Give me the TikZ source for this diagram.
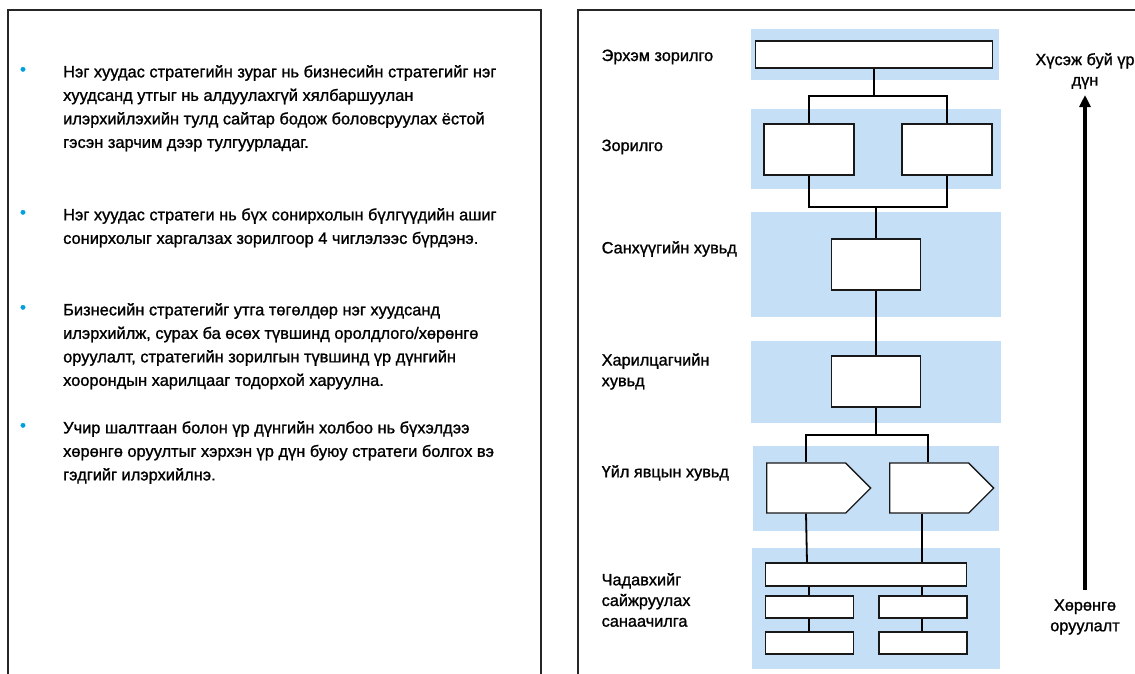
\documentclass[tikz,border=0pt]{standalone}
\usepackage{fontspec}
\setmainfont{Liberation Sans}[FakeBold=1.2]
\usetikzlibrary{shapes.symbols,arrows.meta}
\definecolor{band}{RGB}{197,223,246}
\definecolor{bul}{RGB}{0,160,222}
\begin{document}
\begin{tikzpicture}[x=1pt,y=-1pt,
  panel/.style={draw=black!85,line width=1.5pt},
  bandbox/.style={fill=band,draw=none,inner sep=0pt},
  wbox/.style={draw=black!90,fill=white,line width=1.3pt,inner sep=0pt},
  pent/.style={signal,signal to=east,signal pointer angle=90,draw=black!90,fill=white,line width=1.3pt,inner sep=0pt,minimum width=104pt,minimum height=50pt,anchor=west},
  conn/.style={draw=black,line width=1.8pt},
  thinconn/.style={draw=black,line width=1.3pt},
  para/.style={anchor=north west,inner sep=0pt,align=left,font=\fontsize{16.4}{23.5}\selectfont},
  bullet/.style={text=bul,inner sep=0pt,font=\fontsize{17}{18}\selectfont},
  rlab/.style={anchor=west,inner sep=0pt,align=left,font=\fontsize{16.3}{20.7}\selectfont},
  clab/.style={inner sep=0pt,align=center,font=\fontsize{16.3}{20.5}\selectfont}]
\useasboundingbox (0,0) rectangle (1135,673);
\clip (0,0) rectangle (1135,673);
% panels
\draw[panel] (8,690) -- (8,10) -- (541,10) -- (541,690);
\draw[panel] (578,690) -- (578,10) -- (1145,10);
% left text
\node[bullet] (b1) at (23,71) {•};
\node[para] (p1) at (63,65) {Нэг хуудас стратегийн зураг нь бизнесийн стратегийг нэг\\хуудсанд утгыг нь алдуулахгүй хялбаршуулан\\илэрхийлэхийн тулд сайтар бодож боловсруулах ёстой\\гэсэн зарчим дээр тулгуурладаг.};
\node[bullet] (b2) at (23,214) {•};
\node[para] (p2) at (63,208) {Нэг хуудас стратеги нь бүх сонирхолын бүлгүүдийн ашиг\\сонирхолыг харгалзах зорилгоор 4 чиглэлээс бүрдэнэ.};
\node[bullet] (b3) at (23,309) {•};
\node[para] (p3) at (63,303) {Бизнесийн стратегийг утга төгөлдөр нэг хуудсанд\\илэрхийлж, сурах ба өсөх түвшинд оролдлого/хөрөнгө\\оруулалт, стратегийн зорилгын түвшинд үр дүнгийн\\хоорондын харилцааг тодорхой харуулна.};
\node[bullet] (b4) at (23,427) {•};
\node[para] (p4) at (63,421) {Учир шалтгаан болон үр дүнгийн холбоо нь бүхэлдээ\\хөрөнгө оруултыг хэрхэн үр дүн буюу стратеги болгох вэ\\гэдгийг илэрхийлнэ.};
% bands
\node[bandbox,minimum width=248pt,minimum height=51pt] (band1) at (875,54.5) {};
\node[bandbox,minimum width=250pt,minimum height=80pt] (band2) at (875.5,149) {};
\node[bandbox,minimum width=250pt,minimum height=105pt] (band3) at (875.5,264.5) {};
\node[bandbox,minimum width=250pt,minimum height=82pt] (band4) at (875.5,382) {};
\node[bandbox,minimum width=246pt,minimum height=85pt] (band5) at (876,488.5) {};
\node[bandbox,minimum width=248pt,minimum height=121pt] (band6) at (876,608.5) {};
% row labels
\node[rlab] (l1) at (601.5,57) {Эрхэм зорилго};
\node[rlab] (l2) at (601.5,147) {Зорилго};
\node[rlab] (l3) at (601.5,249) {Санхүүгийн хувьд};
\node[rlab] (l4) at (601.5,371.5) {Харилцагчийн\\хувьд};
\node[rlab] (l5) at (601.5,473) {Үйл явцын хувьд};
\node[rlab] (l6) at (601.5,600) {Чадавхийг\\сайжруулах\\санаачилга};
% junctions
\coordinate (j1) at (874,96);
\coordinate (j2) at (876,207);
\coordinate (j3) at (876,435);
% boxes
\node[wbox,minimum width=237pt,minimum height=27pt] (m1) at (874,54.5) {};
\node[wbox,minimum width=90pt,minimum height=51pt] (g1) at (809,149.5) {};
\node[wbox,minimum width=90pt,minimum height=51pt] (g2) at (947,149.5) {};
\node[wbox,minimum width=89pt,minimum height=51pt] (f1) at (876,264.5) {};
\node[wbox,minimum width=89pt,minimum height=51pt] (c1) at (876,381.5) {};
\node[pent] (pr1) at (766,488) {};
\node[pent] (pr2) at (889,488) {};
\node[wbox,minimum width=201pt,minimum height=23pt] (bar) at (866.3,574.5) {};
\node[wbox,minimum width=88pt,minimum height=22pt] (s1) at (809.5,607) {};
\node[wbox,minimum width=88pt,minimum height=22pt] (s2) at (923,607) {};
\node[wbox,minimum width=88pt,minimum height=22pt] (s3) at (809.5,643) {};
\node[wbox,minimum width=88pt,minimum height=22pt] (s4) at (923,643) {};
% connector lines
\draw[conn] (m1.south) -- (j1);
\draw[conn] (g1.north) |- (j1) -| (g2.north);
\draw[conn] (g1.south) |- (j2) -| (g2.south);
\draw[conn] (j2) -- (f1.north);
\draw[conn] (f1.south) -- (c1.north);
\draw[conn] (c1.south) -- (j3);
\draw[conn] (pr1.north west -| 806,0) |- (j3) -| (pr2.north west -| 928,0);
\draw[conn] (pr1.south west -| 806,0) -- (bar.north west -| 807,0);
\draw[conn] (pr2.south west -| 922,0) -- (bar.north west -| 922,0);
\draw[thinconn] (bar.south west -| 809,0) -- (s1.north west -| 809,0);
\draw[thinconn] (bar.south west -| 922,0) -- (s2.north west -| 922,0);
\draw[thinconn] (s1.south west -| 809,0) -- (s3.north west -| 809,0);
\draw[thinconn] (s2.south west -| 922,0) -- (s4.north west -| 922,0);
% side labels and arrow
\node[clab] (top) at (1085,71) {Хүсэж буй үр\\дүн};
\node[clab] (bot) at (1085,617) {Хөрөнгө\\оруулалт};
\coordinate (a1) at (1085,590);
\coordinate (a2) at (1085,95);
\draw[line width=3.2pt,-{Triangle[length=12pt,width=11pt]}] (a1) -- (a2);
\end{tikzpicture}
\end{document}
